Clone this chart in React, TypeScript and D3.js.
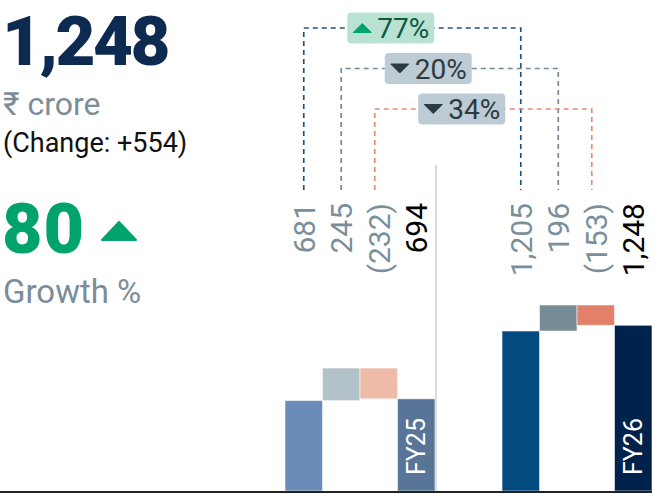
import * as d3 from 'd3';

// waterfall steps per fiscal year: opening segment, increase, decrease, closing total
const years = ['FY25', 'FY26'];
const steps = ['opening', 'added', 'removed', 'total'];
const fy25Values = [681, 245, -232, 694];
const fy26Values = [1205, 196, -153, 1248];

const fy25Colors = ['#6a8cb8', '#b3c1c9', '#edbba7', '#587497'];
const fy26Colors = ['#034a80', '#778b97', '#e2806a', '#00224b'];
const bracketColors = ['#1c5487', '#76899a', '#e58a73'];

const W = 652;
const H = 494;
const baseY = 491;

const fmt = d3.format(',');
const label = (v: number) => (v < 0 ? `(${fmt(-v)})` : fmt(v));

interface Bar {
  year: string;
  step: string;
  value: number;
  y0: number;
  y1: number;
  color: string;
}

function buildBars(year: string, values: number[], colors: string[]): Bar[] {
  let run = 0;
  return values.map((v, i) => {
    let y0: number, y1: number;
    if (i === 0 || i === values.length - 1) {
      y0 = 0;
      y1 = v;
      run = v;
    } else {
      y0 = run;
      y1 = run + v;
      run = y1;
    }
    return { year, step: steps[i], value: v, y0: Math.min(y0, y1), y1: Math.max(y0, y1), color: colors[i] };
  });
}

export default function App() {
  const bars = [
    ...buildBars('FY25', fy25Values, fy25Colors),
    ...buildBars('FY26', fy26Values, fy26Colors),
  ];

  const x = d3.scaleBand().domain(years).range([285, W]).paddingInner(0.309).paddingOuter(0);
  const xi = d3.scaleBand().domain(steps).range([0, x.bandwidth()]).padding(0);
  const y = d3.scaleLinear().domain([0, 1248]).range([baseY, 325.3]);

  const cx = (yr: string, st: string) => (x(yr) || 0) + (xi(st) || 0) + xi.bandwidth() / 2;

  const prev = fy25Values[3];
  const cur = fy26Values[3];
  const growth = Math.round((cur / prev - 1) * 100);

  // year-over-year comparison per component
  const brackets = [0, 1, 2].map(i => {
    const a = Math.abs(fy25Values[i]);
    const b = Math.abs(fy26Values[i]);
    const pct = Math.round((b / a - 1) * 100);
    const shift = i === 2 ? -4 : 0;
    return {
      x1: cx('FY25', steps[i]) + shift,
      x2: cx('FY26', steps[i]) + shift,
      top: 28 + i * 40.5,
      pct,
      color: bracketColors[i],
    };
  });

  const dividerX = (x('FY25') || 0) + x.bandwidth() + 1;

  return (
    <svg
      width={W}
      height={H}
      style={{ position: 'absolute', left: 0, top: 0, display: 'block' }}
      fontFamily="Roboto, 'Noto Sans', sans-serif"
    >
      {/* headline figures */}
      <text x={2} y={65} fontSize={69} fontWeight={900} fill="#0d2a50" letterSpacing={-2.5}>
        {fmt(cur)}
      </text>
      <text x={3} y={115} fontSize={32} fill="#7b8d99">₹ crore</text>
      <text x={3} y={152} fontSize={27} fill="#111">{`(Change: +${fmt(cur - prev)})`}</text>
      <text x={2} y={253} fontSize={70} fontWeight={900} fill="#00a36c" letterSpacing={1}>
        {growth}
      </text>
      <path d="M102,240 L136,240 L119,222 Z" fill="#00a36c" stroke="#00a36c" strokeWidth={2} strokeLinejoin="round" />
      <text x={3} y={303} fontSize={33} fill="#7b8d99">Growth %</text>

      {/* divider */}
      <line x1={dividerX} x2={dividerX} y1={165} y2={baseY} stroke="#c9d2d8" strokeWidth={1.5} />

      {/* brackets */}
      {brackets.map((b, i) => (
        <path
          key={`br${i}`}
          d={`M${b.x1},190 V${b.top} H${b.x2} V190`}
          fill="none"
          stroke={b.color}
          strokeWidth={1.7}
          strokeDasharray="5,4"
        />
      ))}
      {brackets.map((b, i) => {
        const mid = (b.x1 + b.x2) / 2 - 21.5;
        const up = b.pct >= 0;
        const bw = 87;
        const bh = 31;
        const left = mid - bw / 2;
        const triFill = up ? '#00a36c' : '#2c3a42';
        const tri = up
          ? `M${left + 6},${b.top + 4.5} h18 l-9,-9 Z`
          : `M${left + 6},${b.top - 4.5} h18 l-9,9 Z`;
        return (
          <g key={`bd${i}`}>
            <rect x={left} y={b.top - bh / 2} width={bw} height={bh} rx={4} fill={up ? '#b9e2d3' : '#bccbd4'} />
            <path d={tri} fill={triFill} stroke={triFill} strokeWidth={1} strokeLinejoin="round" />
            <text x={left + 30} y={b.top} dy="0.36em" fontSize={28} fill={up ? '#0b5b3e' : '#2c3a42'}>
              {`${Math.abs(b.pct)}%`}
            </text>
          </g>
        );
      })}

      {/* waterfall bars */}
      {bars.map((d, i) => (
        <rect
          key={`bar${i}`}
          x={(x(d.year) || 0) + (xi(d.step) || 0)}
          y={y(d.y1)}
          width={xi.bandwidth()}
          height={y(d.y0) - y(d.y1)}
          fill={d.color}
          stroke="rgba(255,255,255,0.55)"
          strokeWidth={1}
        />
      ))}

      {/* value labels */}
      {bars.map((d, i) => {
        const c = cx(d.year, d.step);
        return (
          <text
            key={`lb${i}`}
            transform={`translate(${c},203) rotate(-90)`}
            dy="0.36em"
            textAnchor="end"
            fontSize={30}
            fill={d.step === 'total' ? '#000' : '#7a8f9c'}
          >
            {label(d.value)}
          </text>
        );
      })}

      {/* year labels inside total bars */}
      {years.map(yr => (
        <text
          key={yr}
          transform={`translate(${cx(yr, 'total')},475) rotate(-90)`}
          dy="0.36em"
          fontSize={25}
          fill="#fff"
        >
          {yr}
        </text>
      ))}

      {/* baseline */}
      <line x1={0} x2={W} y1={baseY + 1} y2={baseY + 1} stroke="#222" strokeWidth={2} />
    </svg>
  );
}
